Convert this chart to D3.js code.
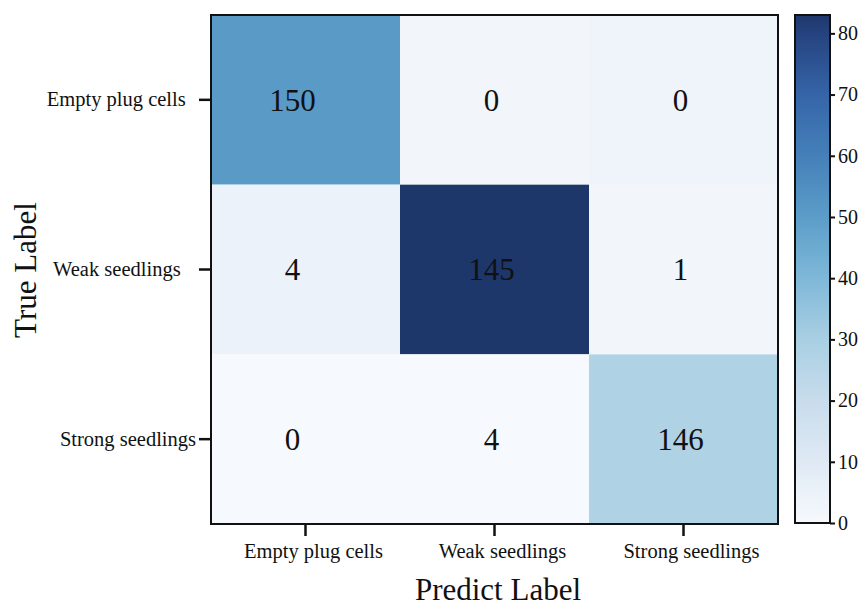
<!DOCTYPE html>
<html lang="en">
  <head>
    <meta charset="UTF-8">
    <title>Confusion Matrix</title>
    <script src="https://d3js.org/d3.v7.min.js"></script>
    <style>
      body, html {
        margin: 0;
        padding: 0;
        background: white;
        overflow: hidden;
      }
      svg {
        display: block;
        font-family: "Liberation Serif", "Times New Roman", serif;
      }
      text { white-space: pre; }
    </style>
  </head>
  <body>
    <svg width="863" height="606"></svg>
    <script>
      // data
      const trueLabels = ["Empty plug cells  ", "Weak seedlings   ", "Strong seedlings"];
      const predLabels = ["Empty plug cells", "Weak seedlings", "Strong seedlings"];
      const counts = [
        [150, 0, 0],
        [4, 145, 1],
        [0, 4, 146]
      ];
      // colour values (the picture's colours do not follow the counts)
      const shade = [
        [51, 2, 3.5],
        [5, 83, 2],
        [0, 0, 28]
      ];
      const barTicks = [0, 10, 20, 30, 40, 50, 60, 70, 80];
      const barMax = 83;
      const stopValues = [0, 5, 10, 20, 30, 40, 50, 60, 70, 80, 83];
      const stopColors = ["#f6f9fd", "#ebf2f9", "#dfe9f4", "#c8dcec", "#a9cfe3", "#7fb8d8",
                          "#5b9dc9", "#4580b9", "#3565a8", "#26427f", "#1e376b"];

      const svg = d3.select("svg");
      const serif = "Liberation Serif, Times New Roman, serif";
      const m = {left: 211, top: 15, right: 778, bottom: 524};

      const x = d3.scaleBand().domain(d3.range(3)).range([m.left, m.right]);
      const y = d3.scaleBand().domain(d3.range(3)).range([m.top, m.bottom]);
      const color = d3.scaleLinear().domain(stopValues).range(stopColors).clamp(true);

      const cells = counts.flatMap((row, i) => row.map((v, j) => ({i, j, v, c: shade[i][j]})));

      svg.append("g").selectAll("rect")
        .data(cells)
        .join("rect")
        .attr("x", d => x(d.j))
        .attr("y", d => y(d.i))
        .attr("width", x.bandwidth())
        .attr("height", y.bandwidth())
        .attr("fill", d => color(d.c));

      svg.append("g").selectAll("text")
        .data(cells)
        .join("text")
        .attr("x", d => x(d.j) + x.bandwidth() / 2)
        .attr("y", d => y(d.i) + y.bandwidth() / 2)
        .attr("dx", d => d.j === 0 ? -13 : -3)
        .attr("dy", "0.35em")
        .attr("text-anchor", "middle")
        .attr("font-family", serif)
        .attr("font-size", 31)
        .attr("fill", "#111")
        .text(d => d.v);

      svg.append("rect")
        .attr("x", m.left).attr("y", m.top)
        .attr("width", m.right - m.left).attr("height", m.bottom - m.top)
        .attr("fill", "none").attr("stroke", "#111").attr("stroke-width", 2);

      // axes
      const yAxis = svg.append("g")
        .attr("transform", `translate(${m.left - 1},0)`)
        .call(d3.axisLeft(y).tickFormat(i => trueLabels[i]).tickSize(11).tickPadding(3));
      const xAxis = svg.append("g")
        .attr("transform", `translate(0,${m.bottom + 1})`)
        .call(d3.axisBottom(x).tickFormat(i => predLabels[i]).tickSize(11).tickPadding(7));
      [yAxis, xAxis].forEach(g => {
        g.select(".domain").remove();
        g.selectAll(".tick line").attr("stroke", "#111").attr("stroke-width", 2.5);
        g.selectAll(".tick text")
          .attr("font-family", serif)
          .attr("font-size", 20.5)
          .attr("fill", "#111");
      });
      xAxis.selectAll(".tick text").attr("dx", 8).attr("dy", "0.75em");

      svg.append("text")
        .attr("transform", "translate(36,270) rotate(-90)")
        .attr("text-anchor", "middle")
        .attr("font-family", serif)
        .attr("font-size", 31)
        .attr("fill", "#111")
        .text("True Label");
      svg.append("text")
        .attr("x", 498).attr("y", 600)
        .attr("text-anchor", "middle")
        .attr("font-family", serif)
        .attr("font-size", 31)
        .attr("fill", "#111")
        .text("Predict Label");

      // colour bar
      const cb = {x: 795, w: 35};
      const cy = d3.scaleLinear().domain([0, barMax]).range([m.bottom - 1, m.top]);
      const grad = svg.append("defs").append("linearGradient")
        .attr("id", "cbar").attr("x1", 0).attr("x2", 0).attr("y1", 1).attr("y2", 0);
      grad.selectAll("stop")
        .data(stopValues)
        .join("stop")
        .attr("offset", d => d / barMax)
        .attr("stop-color", d => color(d));
      svg.append("rect")
        .attr("x", cb.x).attr("y", cy(barMax))
        .attr("width", cb.w).attr("height", cy(0) - cy(barMax))
        .attr("fill", "url(#cbar)")
        .attr("stroke", "#111").attr("stroke-width", 2);
      const cAxis = svg.append("g")
        .attr("transform", `translate(${cb.x + cb.w},0)`)
        .call(d3.axisRight(cy).tickValues(barTicks).tickSize(5).tickPadding(3));
      cAxis.select(".domain").remove();
      cAxis.selectAll(".tick line").attr("stroke", "#111").attr("stroke-width", 2);
      cAxis.selectAll(".tick text")
        .attr("font-family", serif)
        .attr("font-size", 20)
        .attr("fill", "#111");
    </script>
  </body>
</html>
